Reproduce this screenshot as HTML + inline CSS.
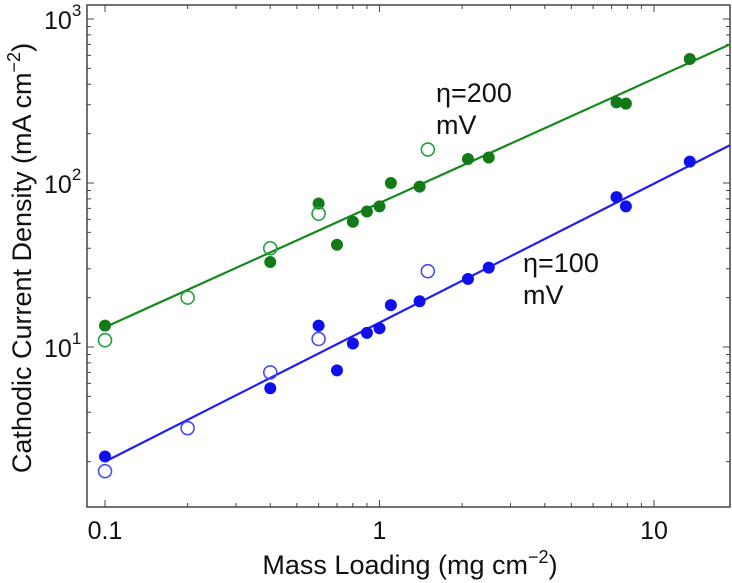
<!DOCTYPE html>
<html><head><meta charset="utf-8"><style>
html,body{margin:0;padding:0;background:#fff;}
svg{display:block;font-family:"Liberation Sans",sans-serif;}
</style></head><body>
<svg id="chart" width="732" height="583" xmlns="http://www.w3.org/2000/svg"></svg>
<script>
const xTicks=[0.1,1,10];
const xTickLabels=["0.1","1","10"];
const yTicks=[10,100,1000];
const yTickExp=["1","2","3"];
const gFilledX=[0.1,0.4,0.6,0.7,0.8,0.9,1.0,1.1,1.4,2.1,2.5,7.3,7.9,13.5];
const gFilledY=[13.5,33,75,42,58,67,72,100,95,140,143,310,305,570];
const gOpenX=[0.1,0.2,0.4,0.6,1.5];
const gOpenY=[11,20,40,65,160];
const bFilledX=[0.1,0.4,0.6,0.7,0.8,0.9,1.0,1.1,1.4,2.1,2.5,7.3,7.9,13.5];
const bFilledY=[2.15,5.6,13.5,7.2,10.5,12.2,13,18,19,26,30.5,82,72,135];
const bOpenX=[0.1,0.2,0.4,0.6,1.5];
const bOpenY=[1.75,3.2,7,11.2,29];
const gFitX=[0.1,18.9];
const gFitY=[13.2,700];
const bFitX=[0.1,18.9];
const bFitY=[2.0,170];

const svg=document.getElementById('chart');
const NS='http://www.w3.org/2000/svg';
const L=87,R=730,T=5,B=507;
const xs=v=>105+274.5*Math.log10(v/0.1);
const ys=v=>347-164*Math.log10(v/10);
function mk(tag,attrs,txt){const e=document.createElementNS(NS,tag);for(const k in attrs)e.setAttribute(k,attrs[k]);if(txt!==undefined)e.textContent=txt;svg.appendChild(e);return e;}

let box=mk('rect',{x:L,y:T,width:R-L,height:B-T,fill:'none',stroke:'#444','stroke-width':1.5});



for(let d=0.1;d<20;d*=10){for(let m=1;m<10;m++){const v=d*m;if(v<0.086||v>18.9)continue;const x=xs(v);const len=m===1?7:4;
let t=mk('line',{x1:x,x2:x,y1:B,y2:B-len,stroke:'#444','stroke-width':1});
let t2=mk('line',{x1:x,x2:x,y1:T,y2:T+len,stroke:'#444','stroke-width':1});}}
xTicks.forEach((v,i)=>{let e=mk('text',{x:xs(v),y:539,'font-size':25,'text-anchor':'middle',fill:'#111'},xTickLabels[i]);});
for(let d=1;d<2000;d*=10){for(let m=1;m<10;m++){const v=d*m;if(v<1.06||v>1217)continue;const y=ys(v);const len=m===1?7:4;
let t=mk('line',{x1:L,x2:L+len,y1:y,y2:y,stroke:'#444','stroke-width':1});
let t2=mk('line',{x1:R,x2:R-len,y1:y,y2:y,stroke:'#444','stroke-width':1});}}
yTicks.forEach((v,i)=>{let e=mk('text',{x:44,y:ys(v)+10,'font-size':25,fill:'#111'});


const a=document.createElementNS(NS,'tspan');a.textContent='10';e.appendChild(a);const b=document.createElementNS(NS,'tspan');b.setAttribute('dy','-13');b.setAttribute('font-size','17');b.textContent=yTickExp[i];e.appendChild(b);});

let xt=mk('text',{x:410,y:574,'font-size':27,'text-anchor':'middle',fill:'#111'});


xt.innerHTML='Mass Loading (mg cm<tspan dy="-11" font-size="18">−2</tspan><tspan dy="11">)</tspan>';
let yt=mk('text',{x:0,y:0,'font-size':27,'text-anchor':'middle',fill:'#111',transform:'translate(31,258) rotate(-90)'});


yt.innerHTML='Cathodic Current Density (mA cm<tspan dy="-11" font-size="18">−2</tspan><tspan dy="11">)</tspan>';

function fit(xa,ya,col,name){let l=mk('line',{x1:xs(xa[0]),y1:ys(ya[0]),x2:xs(xa[1]),y2:ys(ya[1]),stroke:col,'stroke-width':2.2});}
fit(gFitX,gFitY,'#15891a','fit-line-200mv');
fit(bFitX,bFitY,'#1e1ef5','fit-line-100mv');
function pts(xa,ya,col,filled,name){xa.forEach((v,i)=>{let c=mk('circle',{cx:xs(v),cy:ys(ya[i]),r:filled?5.5:6.5,fill:filled?col:'none',stroke:col,'stroke-width':filled?1:1.6});});}
pts(gFilledX,gFilledY,'#137a17',true,'point-200mv-filled');
pts(gOpenX,gOpenY,'#22a040',false,'point-200mv-open');
pts(bFilledX,bFilledY,'#1010ee',true,'point-100mv-filled');
pts(bOpenX,bOpenY,'#4a4af5',false,'point-100mv-open');

let a1=mk('text',{x:436,y:102,'font-size':27,fill:'#111'},'η=200');
let a2=mk('text',{x:436,y:134,'font-size':27,fill:'#111'},'mV');
let a3=mk('text',{x:523,y:272,'font-size':27,fill:'#111'},'η=100');
let a4=mk('text',{x:523,y:304,'font-size':27,fill:'#111'},'mV');
</script>
</body></html>
